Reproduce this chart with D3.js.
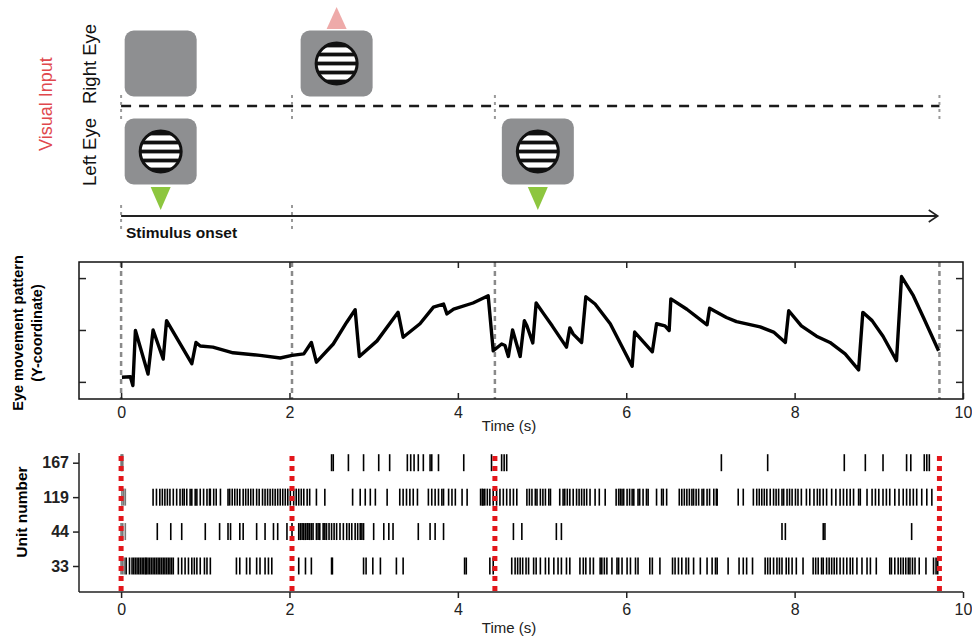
<!DOCTYPE html>
<html>
<head>
<meta charset="utf-8">
<script src="https://cdnjs.cloudflare.com/ajax/libs/d3/7.8.5/d3.min.js"></script>
<style>
  body { margin: 0; background: #fff; }
  svg { display: block; font-family: "Liberation Sans", Arial, sans-serif; }
</style>
</head>
<body>
<div id="chart"></div>
<script>
(function () {
	'use strict';

	// event times (s): stimulus changes
	var eventTimes = [0, 2.03, 4.44, 9.72];
	var timeTicks = [0, 2, 4, 6, 8, 10];

	// stimuli: eye row and onset position (s)
	var stimEye = ['right', 'left', 'right', 'left'];
	var stimTime = [0.47, 0.47, 2.56, 4.95];
	var stimGrating = [false, true, true, true];
	// arrows: time, direction
	var arrowTime = [0.47, 2.56, 4.95];
	var arrowDir = ['down', 'up', 'down'];

	// eye movement trace (time s, Y-coordinate a.u.)
	var eyeT = [0.01, 0.11, 0.14, 0.17, 0.32, 0.38, 0.50, 0.54, 0.84, 0.89, 0.94, 1.09, 1.33, 1.65, 1.89, 2.03,
		2.17, 2.26, 2.32, 2.52, 2.68, 2.78, 2.83, 3.04, 3.29, 3.35, 3.55, 3.71, 3.83, 3.87, 3.95, 4.18, 4.36, 4.42,
		4.52, 4.56, 4.60, 4.65, 4.74, 4.79, 4.82, 4.89, 4.93, 5.02, 5.12, 5.29, 5.33, 5.37, 5.47, 5.52, 5.63, 5.81,
		6.07, 6.10, 6.31, 6.36, 6.46, 6.51, 6.53, 6.72, 6.96, 6.99, 7.19, 7.31, 7.59, 7.75, 7.89, 7.93, 8.08, 8.26,
		8.42, 8.60, 8.76, 8.81, 8.92, 9.05, 9.21, 9.27, 9.41, 9.53, 9.71];
	var eyeY = [-0.91, -0.90, -1.07, -0.01, -0.85, 0.00, -0.56, 0.18, -0.65, -0.24, -0.31, -0.33, -0.44, -0.49, -0.54, -0.49,
		-0.46, -0.24, -0.62, -0.27, 0.15, 0.39, -0.51, -0.21, 0.34, -0.14, 0.12, 0.44, 0.50, 0.31, 0.40, 0.52, 0.66, -0.40,
		-0.27, -0.30, -0.51, 0.00, -0.51, 0.18, 0.08, -0.25, 0.52, 0.31, 0.08, -0.33, 0.04, -0.08, -0.24, 0.64, 0.50, 0.12,
		-0.70, -0.04, -0.42, 0.12, 0.08, -0.01, 0.60, 0.40, 0.10, 0.42, 0.24, 0.16, 0.06, -0.04, -0.24, 0.37, 0.08, -0.12,
		-0.24, -0.46, -0.77, 0.34, 0.18, -0.12, -0.59, 1.03, 0.66, 0.24, -0.40];
	var eyeTicks = [-1, 0, 1];

	// raster: unit labels and spike times (s)
	var units = ['33', '44', '119', '167'];
	var spikes167 = [0.0, 0.01, 0.02, 2.50, 2.52, 2.70, 2.88, 3.06, 3.19, 3.40, 3.44, 3.48, 3.53, 3.59, 3.67, 3.69,
		3.77, 4.07, 4.40, 4.52, 4.55, 4.58, 7.13, 7.68, 8.59, 8.84, 9.05, 9.33, 9.38, 9.54, 9.57, 9.60];
	var spikes119 = [0.01, 0.03, 0.05, 0.38, 0.42, 0.46, 0.49, 0.52, 0.55, 0.58, 0.62, 0.66, 0.70, 0.73, 0.75, 0.78,
		0.82, 0.84, 0.88, 0.90, 0.94, 0.98, 1.02, 1.05, 1.06, 1.10, 1.13, 1.18, 1.27, 1.29, 1.32, 1.35, 1.38, 1.41,
		1.45, 1.48, 1.51, 1.54, 1.57, 1.61, 1.64, 1.68, 1.71, 1.74, 1.77, 1.80, 1.83, 1.86, 1.89, 1.92, 1.95, 1.98,
		2.01, 2.05, 2.08, 2.11, 2.14, 2.17, 2.21, 2.24, 2.32, 2.42, 2.75, 2.84, 2.90, 2.96, 3.02, 3.16, 3.31, 3.35,
		3.39, 3.43, 3.47, 3.52, 3.65, 3.69, 3.73, 3.77, 3.81, 3.83, 3.89, 3.93, 3.97, 4.05, 4.11, 4.27, 4.29, 4.30,
		4.32, 4.35, 4.38, 4.42, 4.46, 4.50, 4.54, 4.58, 4.62, 4.66, 4.70, 4.82, 4.85, 4.88, 4.92, 4.94, 4.98, 5.01,
		5.04, 5.08, 5.10, 5.21, 5.25, 5.27, 5.30, 5.33, 5.37, 5.41, 5.44, 5.47, 5.50, 5.53, 5.57, 5.63, 5.68, 5.75,
		5.88, 5.91, 5.93, 5.95, 5.97, 6.01, 6.04, 6.07, 6.09, 6.14, 6.16, 6.20, 6.24, 6.26, 6.36, 6.42, 6.44, 6.48,
		6.63, 6.66, 6.69, 6.72, 6.75, 6.78, 6.80, 6.83, 6.86, 6.90, 6.92, 6.96, 6.99, 7.04, 7.07, 7.08, 7.33, 7.39,
		7.51, 7.55, 7.58, 7.61, 7.64, 7.67, 7.71, 7.75, 7.78, 7.81, 7.85, 7.87, 7.91, 7.94, 7.97, 8.01, 8.04, 8.08,
		8.14, 8.18, 8.23, 8.27, 8.30, 8.34, 8.38, 8.44, 8.49, 8.54, 8.58, 8.62, 8.66, 8.70, 8.76, 8.78, 8.86, 8.92,
		8.96, 9.00, 9.05, 9.09, 9.13, 9.19, 9.24, 9.29, 9.33, 9.37, 9.41, 9.45, 9.51, 9.57, 9.63];
	var spikes44 = [0.00, 0.02, 0.05, 0.43, 0.59, 0.72, 1.00, 1.17, 1.27, 1.30, 1.41, 1.45, 1.61, 1.71, 1.81, 1.86,
		1.97, 2.03, 2.11, 2.13, 2.15, 2.17, 2.19, 2.21, 2.22, 2.24, 2.26, 2.28, 2.32, 2.34, 2.36, 2.40, 2.42, 2.44,
		2.47, 2.50, 2.53, 2.56, 2.60, 2.64, 2.68, 2.71, 2.74, 2.78, 2.81, 2.84, 2.86, 2.88, 3.00, 3.12, 3.18, 3.23,
		3.53, 3.67, 3.73, 3.83, 4.66, 4.76, 5.17, 5.23, 7.85, 7.89, 8.34, 8.36, 9.39];
	var spikes33 = [0.00, 0.02, 0.04, 0.06, 0.10, 0.13, 0.15, 0.17, 0.19, 0.21, 0.23, 0.25, 0.27, 0.29, 0.30, 0.32,
		0.34, 0.36, 0.38, 0.40, 0.42, 0.44, 0.46, 0.48, 0.50, 0.52, 0.54, 0.56, 0.58, 0.60, 0.62, 0.68, 0.72, 0.76,
		0.80, 0.84, 0.87, 0.90, 0.94, 0.99, 1.02, 1.06, 1.37, 1.41, 1.49, 1.53, 1.61, 1.65, 1.71, 1.75, 1.79, 2.11,
		2.19, 2.26, 2.50, 2.51, 2.88, 2.91, 2.99, 3.08, 3.27, 3.35, 4.08, 4.10, 4.38, 4.42, 4.64, 4.68, 4.71, 4.74,
		4.77, 4.81, 4.84, 4.90, 4.93, 4.98, 5.04, 5.08, 5.14, 5.19, 5.23, 5.29, 5.33, 5.45, 5.49, 5.52, 5.57, 5.61,
		5.69, 5.71, 5.74, 5.77, 5.83, 5.89, 5.91, 5.95, 6.01, 6.05, 6.11, 6.14, 6.28, 6.31, 6.40, 6.55, 6.58, 6.62,
		6.66, 6.71, 6.74, 6.80, 6.88, 6.96, 7.02, 7.06, 7.08, 7.21, 7.34, 7.39, 7.43, 7.50, 7.65, 7.68, 7.71, 7.75,
		7.79, 7.82, 7.85, 7.90, 7.93, 7.97, 8.02, 8.10, 8.22, 8.25, 8.28, 8.32, 8.34, 8.38, 8.41, 8.44, 8.47, 8.50,
		8.54, 8.58, 8.62, 8.66, 8.69, 8.74, 8.80, 8.86, 8.90, 8.97, 9.13, 9.15, 9.19, 9.23, 9.26, 9.29, 9.32, 9.35,
		9.37, 9.40, 9.43, 9.48, 9.56, 9.65, 9.68, 9.70];
	var spikeTrains = [spikes33, spikes44, spikes119, spikes167];

	var width = 972, height = 637;
	var svg = d3.select('#chart').append('svg')
		.attr('width', width)
		.attr('height', height);

	var x = d3.scaleLinear().domain([-0.5, 10]).range([79, 963]);

	// ---------- top panel: visual input ----------
	var top = svg.append('g');
	var rowY = { right: 63.5, left: 151.5 };
	var sqW = 72, sqH = 66;

	top.append('text').attr('transform', 'translate(52,104) rotate(-90)')
		.attr('text-anchor', 'middle').attr('font-size', 18).attr('fill', '#e0484d')
		.text('Visual Input');
	top.append('text').attr('transform', 'translate(96,64) rotate(-90)')
		.attr('text-anchor', 'middle').attr('font-size', 18.5).attr('fill', '#111')
		.text('Right Eye');
	top.append('text').attr('transform', 'translate(96,152) rotate(-90)')
		.attr('text-anchor', 'middle').attr('font-size', 18.5).attr('fill', '#111')
		.text('Left Eye');

	// dashed separator between eyes
	top.append('line')
		.attr('x1', x(eventTimes[0])).attr('x2', x(eventTimes[3]))
		.attr('y1', 106).attr('y2', 106)
		.attr('stroke', '#1a1a1a').attr('stroke-width', 2.6).attr('stroke-dasharray', '10,8');
	top.selectAll('.evtick').data(eventTimes).enter().append('line')
		.attr('x1', function (d) { return x(d); }).attr('x2', function (d) { return x(d); })
		.attr('y1', 95).attr('y2', 120)
		.attr('stroke', '#9a9a9a').attr('stroke-width', 2).attr('stroke-dasharray', '3,4');

	// stimulus squares
	var defs = svg.append('defs');
	var stim = top.selectAll('.stim').data(d3.range(stimTime.length)).enter().append('g')
		.attr('transform', function (i) { return 'translate(' + x(stimTime[i]) + ',' + rowY[stimEye[i]] + ')'; });
	stim.append('rect')
		.attr('x', -sqW / 2).attr('y', -sqH / 2).attr('width', sqW).attr('height', sqH)
		.attr('rx', 9).attr('fill', '#8e8f91');
	stim.each(function (i) {
		if (!stimGrating[i]) return;
		var g = d3.select(this);
		defs.append('clipPath').attr('id', 'clip' + i).append('circle').attr('r', 20);
		var inner = g.append('g').attr('clip-path', 'url(#clip' + i + ')');
		inner.append('circle').attr('r', 20).attr('fill', '#111');
		[-13.5, -4.5, 4.5, 13.5].forEach(function (cy) {
			inner.append('rect').attr('x', -22).attr('width', 44)
				.attr('y', cy - 2.6).attr('height', 5.2).attr('fill', '#fff');
		});
		g.append('circle').attr('r', 20.5).attr('fill', 'none').attr('stroke', '#111').attr('stroke-width', 3);
	});

	// arrows
	arrowTime.forEach(function (t, i) {
		var cx = x(t);
		var pts = arrowDir[i] === 'down'
			? [[cx - 10, 187], [cx + 10, 187], [cx, 210]]
			: [[cx - 10, 29], [cx + 10, 29], [cx, 7]];
		top.append('path')
			.attr('d', d3.line()(pts) + 'Z')
			.attr('fill', arrowDir[i] === 'down' ? '#8dc63f' : '#eeaaa9');
	});

	// timeline with arrow
	var tEnd = 9.70;
	top.append('line')
		.attr('x1', x(0)).attr('x2', x(tEnd))
		.attr('y1', 216).attr('y2', 216)
		.attr('stroke', '#222').attr('stroke-width', 2);
	top.append('path')
		.attr('d', d3.line()([[x(tEnd) - 9, 210], [x(tEnd), 216], [x(tEnd) - 9, 222]]))
		.attr('fill', 'none').attr('stroke', '#222').attr('stroke-width', 1.6);
	top.selectAll('.ontick').data(eventTimes.slice(0, 2)).enter().append('line')
		.attr('x1', function (d) { return x(d); }).attr('x2', function (d) { return x(d); })
		.attr('y1', 205).attr('y2', 229)
		.attr('stroke', '#9a9a9a').attr('stroke-width', 2).attr('stroke-dasharray', '3,4');
	top.append('text').attr('x', 126).attr('y', 238)
		.attr('font-size', 15.5).attr('font-weight', 'bold').attr('fill', '#111')
		.text('Stimulus onset');

	// ---------- middle panel: eye movement ----------
	var eyTop = 262, eyBot = 399;
	var y = d3.scaleLinear().domain([-1.33, 1.31]).range([eyBot, eyTop]);
	var eye = svg.append('g');

	eye.selectAll('.vline').data(eventTimes).enter().append('line')
		.attr('x1', function (d) { return x(d); }).attr('x2', function (d) { return x(d); })
		.attr('y1', eyTop).attr('y2', eyBot)
		.attr('stroke', '#8a8a8a').attr('stroke-width', 2.5).attr('stroke-dasharray', '5,4');

	var line = d3.line()
		.x(function (i) { return x(eyeT[i]); })
		.y(function (i) { return y(eyeY[i]); });
	eye.append('path')
		.attr('d', line(d3.range(eyeT.length)))
		.attr('fill', 'none').attr('stroke', '#000').attr('stroke-width', 3.4)
		.attr('stroke-linejoin', 'round');

	eye.append('rect')
		.attr('x', 79).attr('y', eyTop).attr('width', 884).attr('height', eyBot - eyTop)
		.attr('fill', 'none').attr('stroke', '#111').attr('stroke-width', 1.5);

	// inward ticks, MATLAB style
	eye.append('g').attr('transform', 'translate(0,' + eyBot + ')')
		.call(d3.axisBottom(x).tickValues(timeTicks).tickSizeInner(-6).tickSizeOuter(0).tickPadding(8))
		.call(function (g) { g.select('.domain').remove(); });
	eye.append('g').attr('transform', 'translate(0,' + eyTop + ')')
		.call(d3.axisTop(x).tickValues(timeTicks.slice(0, 5)).tickSizeInner(-6).tickSizeOuter(0).tickFormat(''))
		.call(function (g) { g.select('.domain').remove(); });
	eye.append('g').attr('transform', 'translate(79,0)')
		.call(d3.axisLeft(y).tickValues(eyeTicks).tickSizeInner(-7).tickSizeOuter(0).tickFormat(''))
		.call(function (g) { g.select('.domain').remove(); });
	eye.append('g').attr('transform', 'translate(963,0)')
		.call(d3.axisRight(y).tickValues(eyeTicks).tickSizeInner(-7).tickSizeOuter(0).tickFormat(''))
		.call(function (g) { g.select('.domain').remove(); });

	eye.append('text').attr('x', 509).attr('y', 431)
		.attr('text-anchor', 'middle').attr('font-size', 15).attr('fill', '#222')
		.text('Time (s)');
	eye.append('text').attr('transform', 'translate(23,333) rotate(-90)')
		.attr('text-anchor', 'middle').attr('font-size', 14.5).attr('font-weight', 'bold')
		.text('Eye movement pattern');
	eye.append('text').attr('transform', 'translate(42,333) rotate(-90)')
		.attr('text-anchor', 'middle').attr('font-size', 14.5).attr('font-weight', 'bold')
		.text('(Y-coordinate)');

	// ---------- bottom panel: raster ----------
	var rTop = 453, rBot = 592;
	var yr = d3.scalePoint().domain(units).range([566, 462.7]);
	var raster = svg.append('g');

	units.forEach(function (u, k) {
		raster.selectAll('.sp' + u).data(spikeTrains[k]).enter().append('line')
			.attr('x1', function (d) { return x(d); }).attr('x2', function (d) { return x(d); })
			.attr('y1', yr(u) - 8.5).attr('y2', yr(u) + 8.5)
			.attr('stroke', function (d) { return d < 0.06 ? '#777' : '#000'; })
			.attr('stroke-width', 1.6);
	});

	raster.selectAll('.rline').data(eventTimes).enter().append('line')
		.attr('x1', function (d) { return x(d); }).attr('x2', function (d) { return x(d); })
		.attr('y1', 456).attr('y2', rBot)
		.attr('stroke', '#e3161b').attr('stroke-width', 5).attr('stroke-dasharray', '5,5');

	raster.append('g').attr('transform', 'translate(0,' + rBot + ')')
		.call(d3.axisBottom(x).tickValues(timeTicks).tickSizeInner(6).tickSizeOuter(0).tickPadding(6))
		.call(function (g) { g.select('.domain').attr('d', 'M79,0H963'); });
	raster.append('g').attr('transform', 'translate(79,0)')
		.call(d3.axisLeft(yr).tickSizeInner(6).tickSizeOuter(0).tickPadding(4))
		.call(function (g) {
			g.select('.domain').attr('d', 'M0,' + rTop + 'V' + rBot);
			g.selectAll('text').attr('font-weight', 'bold').attr('font-size', 16);
		});

	raster.append('text').attr('x', 509).attr('y', 633)
		.attr('text-anchor', 'middle').attr('font-size', 15).attr('fill', '#222')
		.text('Time (s)');
	raster.append('text').attr('transform', 'translate(27,512) rotate(-90)')
		.attr('text-anchor', 'middle').attr('font-size', 15.5).attr('font-weight', 'bold')
		.text('Unit number');

	// shared axis styling
	svg.selectAll('.tick text')
		.attr('font-family', '"Liberation Sans", Arial, sans-serif')
		.attr('fill', '#222');
	svg.selectAll('.tick').filter(function () { return d3.select(this).select('text').attr('font-size') == null; })
		.select('text').attr('font-size', 16);
	svg.selectAll('.tick line, .domain').attr('stroke', '#222').attr('stroke-width', 1.5);
}());
</script>
</body>
</html>
